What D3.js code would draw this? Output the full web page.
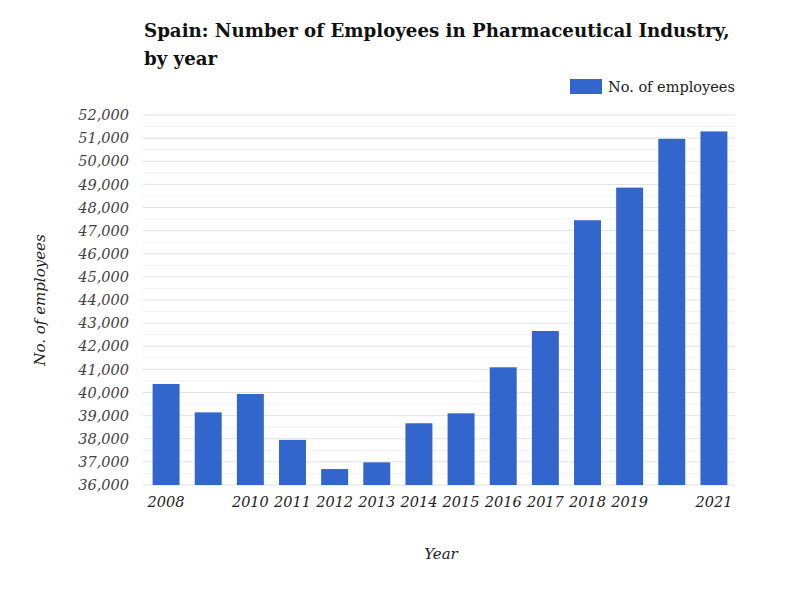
<!DOCTYPE html>
<html><head><meta charset="utf-8">
<script src="https://cdn.jsdelivr.net/npm/d3@7"></script>
<style>body{margin:0;background:#fff;}</style>
</head><body><svg id="c" width="800" height="600"></svg>
<script>
const years = ["2008","2009","2010","2011","2012","2013","2014","2015","2016","2017","2018","2019","2020","2021"];
const employees = [40370,39140,39935,37950,36690,36980,38670,39100,41090,42660,47450,48860,50970,51290];
const shownYearLabels = ["2008","2010","2011","2012","2013","2014","2015","2016","2017","2018","2019","2021"];
const yTicks = d3.range(36000, 52001, 1000);
const minorTicks = d3.range(36500, 52000, 1000);

const font = "'DejaVu Serif', serif";
const svg = d3.select("#c");
const m = {l:145, r:735, t:115, b:485};
const x = d3.scaleBand().domain(years).range([m.l, m.r]).paddingInner(0.36).paddingOuter(0.18);
const y = d3.scaleLinear().domain([36000, 52000]).range([m.b, m.t]);

svg.append("g").selectAll("line.minor").data(minorTicks).join("line")
  .attr("x1", m.l - 2).attr("x2", m.r).attr("y1", d=>y(d)).attr("y2", d=>y(d))
  .attr("stroke", "#f1f1f1").attr("stroke-width", 1);
svg.append("g").selectAll("line.major").data(yTicks).join("line")
  .attr("x1", m.l - 2).attr("x2", m.r).attr("y1", d=>y(d)).attr("y2", d=>y(d))
  .attr("stroke", "#e2e2e2").attr("stroke-width", 1);

const yAxis = d3.axisLeft(y).tickValues(yTicks).tickFormat(d3.format(",")).tickSize(0).tickPadding(0);
const ya = svg.append("g").attr("transform", `translate(${m.l - 16},0)`).call(yAxis);
ya.select(".domain").remove();
ya.selectAll("text").attr("font-family", font).attr("font-style", "italic").attr("font-size", 14.5).attr("fill", "#444");

svg.append("g").selectAll("rect").data(employees).join("rect")
  .attr("x", (d,i)=>x(years[i])).attr("width", x.bandwidth())
  .attr("y", d=>y(d)).attr("height", d=>y(36000)-y(d))
  .attr("fill", "#3366cc");

const xAxis = d3.axisBottom(x).tickSize(0).tickPadding(12).tickFormat(d => shownYearLabels.includes(d) ? d : "");
const xa = svg.append("g").attr("transform", `translate(0,${m.b})`).call(xAxis);
xa.select(".domain").remove();
xa.selectAll("text").attr("font-family", font).attr("font-style", "italic").attr("font-size", 14.5).attr("fill", "#222");

svg.append("text").attr("x", 144).attr("y", 37).attr("font-family", font).attr("font-weight", "bold")
  .attr("font-size", 18.2).attr("fill", "#111").text("Spain: Number of Employees in Pharmaceutical Industry,");
svg.append("text").attr("x", 144).attr("y", 65).attr("font-family", font).attr("font-weight", "bold")
  .attr("font-size", 18.2).attr("fill", "#111").text("by year");

svg.append("rect").attr("x", 570).attr("y", 79).attr("width", 32).attr("height", 15).attr("fill", "#3366cc");
svg.append("text").attr("x", 608).attr("y", 92).attr("font-family", font).attr("font-size", 14.5)
  .attr("fill", "#222").text("No. of employees");

svg.append("text").attr("transform", "translate(45,300) rotate(-90)").attr("text-anchor", "middle")
  .attr("font-family", font).attr("font-style", "italic").attr("font-size", 15).attr("fill", "#222").text("No. of employees");
svg.append("text").attr("x", 441).attr("y", 559).attr("text-anchor", "middle")
  .attr("font-family", font).attr("font-style", "italic").attr("font-size", 15).attr("fill", "#222").text("Year");
</script></body></html>
